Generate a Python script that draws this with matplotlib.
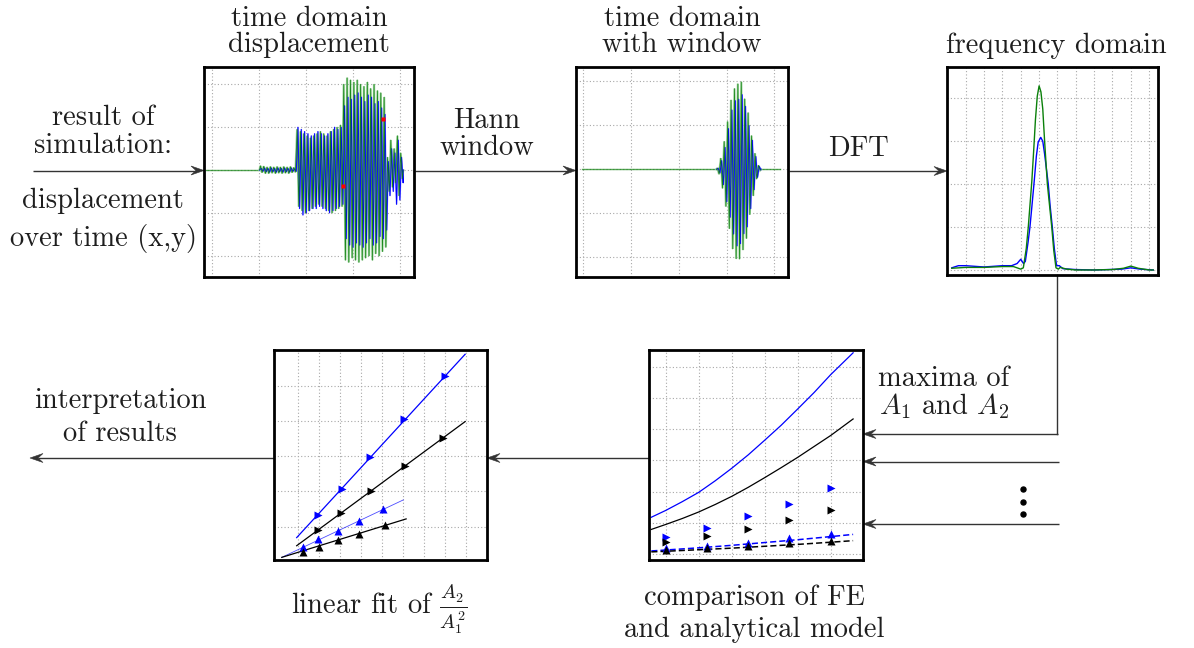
import numpy as np
import matplotlib
matplotlib.use("Agg")
import matplotlib.pyplot as plt
from matplotlib.patches import Polygon

plt.rcParams['font.family'] = ['cmr10']
plt.rcParams['mathtext.fontset'] = 'cm'
plt.rcParams['axes.unicode_minus'] = False
plt.rcParams['axes.formatter.use_mathtext'] = True

W, H = 1194, 648

# ---------------- data ----------------
# time-domain displacement: segment limits and half-cycle peak values
disp_segments = [1.02, 1.80, 2.79, 3.72, 4.07]
green_pre = [0.10, -0.06, 0.09, -0.08, 0.07, -0.08, 0.08, -0.07, 0.07, -0.08, 0.08,
             -0.07, 0.07, -0.08, 0.08, -0.07, 0.07, -0.08, 0.08, -0.06, 0.06, -0.05]
blue_pre = [0.04, -0.03, 0.05, -0.04, 0.04, -0.05, 0.05, -0.04, 0.04, -0.05, 0.05,
            -0.04, 0.04, -0.05, 0.05, -0.04, 0.04, -0.05, 0.05, -0.03, 0.03, -0.03]
green_mid = [0.95, -0.85, 0.90, -0.95, 0.85, -1.00, 0.80, -0.95, 0.75, -0.90, 0.80, -0.85,
             0.85, -0.80, 0.90, -0.85, 0.85, -0.90, 0.80, -0.95, 0.90, -1.00, 0.95, -0.95,
             1.00, -0.90, 1.05, -0.85]
blue_mid = [1.00, -0.90, 0.95, -1.05, 0.90, -1.00, 0.85, -0.95, 0.80, -0.90, 0.85, -0.90,
            0.90, -0.85, 0.85, -0.90, 0.80, -0.95, 0.85, -1.00, 0.90, -0.95, 1.00, -0.90,
            0.95, -0.85, 1.00, -0.80]
green_burst = [2.00, -2.10, 2.15, -2.15, 2.10, -2.05, 2.05, -2.10, 2.10, -2.15, 2.00, -2.10,
               1.95, -2.05, 2.05, -2.00, 1.90, -2.10, 2.00, -1.95, 1.85, -2.00, 1.80, -1.90,
               1.70, -1.80]
blue_burst = [1.50, -1.60, 1.70, -1.75, 1.65, -1.80, 1.75, -1.70, 1.80, -1.75, 1.70, -1.80,
              1.60, -1.70, 1.75, -1.60, 1.70, -1.75, 1.55, -1.70, 1.60, -1.55, 1.45, -1.60,
              1.30, -1.40]
green_tail = [0.30, -0.50, 0.70, -0.40, 0.50, -0.30, 0.80, -0.60, 0.40, -0.20]
blue_tail = [0.20, -0.60, 0.50, -0.50, 0.40, -0.80, 0.70, -0.70, 0.30, -0.30]
red_x = [3.64, 2.79]
red_y = [1.19, -0.38]

# frequency domain spectra
freq_green_x = [-0.76, 0.0, 1.0, 2.0, 2.6, 3.0, 3.14, 3.3, 3.41, 3.5, 3.6, 3.7, 3.8, 3.9,
                4.0, 4.1, 4.2, 4.3, 4.45, 4.57, 4.69, 4.8, 4.92, 5.05, 5.15, 5.5, 6.0, 7.0,
                8.0, 8.6, 9.0, 9.4, 10.0, 10.22]
freq_green = [0.04, 0.06, 0.06, 0.08, 0.08, 0.02, 0.05, 0.5, 1.0, 1.5, 2.05, 2.75, 3.5, 4.05,
              4.29, 4.15, 3.75, 3.0, 2.0, 1.5, 1.0, 0.45, 0.05, 0.02, 0.06, 0.02, 0.0, 0.0,
              0.01, 0.04, 0.09, 0.04, 0.0, 0.0]
freq_blue_x = [-0.76, -0.4, 0.0, 1.0, 2.0, 2.5, 2.8, 3.0, 3.15, 3.25, 3.3, 3.4, 3.5, 3.6,
               3.74, 3.85, 3.95, 4.09, 4.2, 4.3, 4.4, 4.5, 4.6, 4.72, 4.83, 4.95, 5.1, 5.3,
               6.0, 7.0, 8.5, 9.0, 9.5, 10.22]
freq_blue = [0.05, 0.1, 0.1, 0.07, 0.1, 0.1, 0.15, 0.25, 0.15, 0.2, 0.35, 0.65, 1.0, 1.45,
             2.1, 2.65, 2.98, 3.09, 3.0, 2.7, 2.35, 2.0, 1.5, 1.0, 0.5, 0.1, 0.1, 0.03,
             0.01, 0.0, 0.02, 0.05, 0.02, 0.0]

# linear fit of A2/A1^2
fit_up_x = [0.95, 8.97]
fit_blue_up_y = [0.69, 5.89]
fit_black_up_y = [0.46, 3.98]
fit_blue_lo_x = [0.24, 6.03]
fit_blue_lo_y = [0.13, 1.76]
fit_black_lo_x = [0.24, 6.16]
fit_black_lo_y = [0.13, 1.22]
pts_blue_up_x = [1.98, 3.10, 4.44, 6.08, 8.01]
pts_blue_up_y = [1.33, 2.07, 2.97, 4.06, 5.28]
pts_black_up_x = [1.98, 3.06, 4.49, 6.11, 7.93]
pts_black_up_y = [0.91, 1.40, 2.01, 2.73, 3.51]
pts_blue_lo_x = [1.27, 1.98, 2.90, 3.93, 5.08]
pts_blue_lo_y = [0.41, 0.64, 0.88, 1.17, 1.50]
pts_black_lo_x = [1.24, 2.01, 2.90, 3.93, 5.16]
pts_black_lo_y = [0.29, 0.43, 0.62, 0.80, 1.05]

# comparison of FE and analytical model
model_x = [0.56, 1.0, 1.5, 2.0, 2.5, 3.0, 3.5, 4.0, 4.5, 5.0, 5.5, 6.0, 6.68]
model_blue = [1.18, 1.40, 1.68, 1.98, 2.35, 2.75, 3.18, 3.65, 4.13, 4.65, 5.18, 5.75, 6.45]
model_black = [0.79, 0.95, 1.14, 1.35, 1.59, 1.85, 2.14, 2.45, 2.77, 3.10, 3.45, 3.80, 4.33]
model_blue_dash = [0.10, 0.13, 0.165, 0.20, 0.24, 0.28, 0.325, 0.37, 0.415, 0.46, 0.51,
                   0.56, 0.63]
model_black_dash = [0.07, 0.09, 0.115, 0.14, 0.165, 0.19, 0.22, 0.25, 0.28, 0.31, 0.345,
                    0.38, 0.43]
fe_x = [1.0, 2.25, 3.5, 4.75, 6.0]
fe_blue_r = [0.56, 0.84, 1.21, 1.62, 2.13]
fe_black_r = [0.38, 0.59, 0.81, 1.10, 1.42]
fe_blue_u = [0.18, 0.26, 0.37, 0.50, 0.63]
fe_black_u = [0.13, 0.18, 0.26, 0.34, 0.43]

# ---------------- styling ----------------
BLUE = '#0000ff'
GREEN = '#0a800a'
LIGHT_GREEN = '#9fd29f'
LIGHT_BLUE = '#8c8cff'
TXT = '#1e1e1e'
ARR = '#333333'
FS = 20.5

fig = plt.figure(figsize=(W / 100, H / 100), dpi=100)
canvas = fig.add_axes([0, 0, 1, 1], zorder=0)
canvas.set_xlim(0, W)
canvas.set_ylim(H, 0)
canvas.axis('off')


def panel(l, t, r, b, xlim, ylim, xt, yt):
    ax = fig.add_axes([l / W, 1 - b / H, (r - l) / W, (b - t) / H], zorder=2)
    ax.set_xlim(*xlim)
    ax.set_ylim(*ylim)
    ax.set_xticks(xt)
    ax.set_yticks(yt)
    ax.tick_params(length=0, labelbottom=False, labelleft=False)
    ax.grid(True, color='#a8a8a8', lw=0.8, ls=(0, (1, 2)))
    ax.set_axisbelow(True)
    for s in ax.spines.values():
        s.set_linewidth(2.0)
        s.set_color('black')
    return ax


def zigzag(segments, parts, phase=0.5):
    """Place half-cycle peaks evenly inside each segment; phase shifts them by a
    fraction of one half-cycle."""
    t = []
    for s, e, p in zip(segments[:-1], segments[1:], parts):
        n = len(p)
        t.extend(s + (np.arange(n) + phase) * (e - s) / n)
    return np.array(t), np.concatenate([np.asarray(p, float) for p in parts])


def arrow(x0, y0, x1, y1, L=13.0, hw=4.5):
    d = np.array([x1 - x0, y1 - y0], float)
    u = d / np.hypot(*d)
    n = np.array([-u[1], u[0]])
    tip = np.array([x1, y1], float)
    back = tip - L * u
    notch = tip - 0.62 * L * u
    canvas.plot([x0, notch[0]], [y0, notch[1]], color=ARR, lw=1.0, solid_capstyle='butt')
    canvas.add_patch(Polygon([tip, back + hw * n, notch, back - hw * n], closed=True,
                             fc=ARR, ec=ARR, lw=0.4))


def label(x, y, s, **kw):
    canvas.text(x, y, s, ha='center', va='baseline', fontsize=FS, color=TXT, **kw)


def burst(ax, tg, yg, tb, yb):
    # pale bodies of both traces first, then the blue and dark green traces
    ax.plot(tg, yg, color=LIGHT_GREEN, lw=1.6, solid_joinstyle='miter')
    ax.plot(tb, yb, color=LIGHT_BLUE, lw=1.1, solid_joinstyle='miter')
    ax.plot(tb, yb, color=BLUE, lw=0.65)
    ax.plot(tg, yg, color=GREEN, lw=0.55, alpha=0.9)


# --- panel 1: time domain displacement ---
ax1 = panel(204, 67, 414, 277, (-0.16, 4.30), (-2.49, 2.40), range(5), range(-2, 3))
tg, yg = zigzag(disp_segments, [green_pre, green_mid, green_burst, green_tail], 0.5)
tb, yb = zigzag(disp_segments, [blue_pre, blue_mid, blue_burst, blue_tail], 1.0)
ax1.plot([-0.12, disp_segments[0]], [0, 0], color=GREEN, lw=1.0, alpha=0.7)
burst(ax1, np.r_[disp_segments[0], tg, disp_segments[-1]], np.r_[0, yg, 0],
      np.r_[disp_segments[0], tb, disp_segments[-1]], np.r_[0, yb, 0])
ax1.plot(red_x, red_y, 's', color='red', ms=2.5, mec='none')

# --- panel 2: time domain with window (burst segment times a Hann window) ---
ax2 = panel(576, 67, 788, 277, (-0.153, 4.287), (-2.45, 2.325), range(5), range(-2, 3))
s0, s1 = disp_segments[2], disp_segments[3]
nb = len(green_burst)
step = (s1 - s0) / nb
hann = np.hanning(nb + 2)[1:-1]
ax2.plot([-0.03, 4.12], [0, 0], color=GREEN, lw=1.0, alpha=0.7)
burst(ax2,
      np.r_[s0, s0 + (np.arange(nb) + 0.5) * step, s1],
      np.r_[0, np.asarray(green_burst) * hann, 0],
      np.r_[s0, s0 + (np.arange(nb) + 1.0) * step, s1],
      np.r_[0, np.asarray(blue_burst) * hann, 0])

# --- panel 3: frequency domain ---
ax3 = panel(947, 67, 1158, 275, (-1.02, 10.48), (-0.117, 4.73), range(11), range(5))
ax3.plot(freq_blue_x, freq_blue, color=BLUE, lw=1.0)
ax3.plot(freq_green_x, freq_green, color=GREEN, lw=1.0)

# --- panel 4: linear fit ---
ax4 = panel(274, 350, 487, 560, (-0.13, 10.01), (0.055, 6.01), range(1, 10), range(1, 6))
ax4.plot(fit_up_x, fit_blue_up_y, color=BLUE, lw=0.9)
ax4.plot(fit_up_x, fit_black_up_y, color='black', lw=0.9)
ax4.plot(fit_blue_lo_x, fit_blue_lo_y, color=BLUE, lw=0.6, alpha=0.7)
ax4.plot(fit_black_lo_x, fit_black_lo_y, color='black', lw=0.9)
ax4.plot(pts_blue_up_x, pts_blue_up_y, '>', color=BLUE, ms=5.5, mec='none')
ax4.plot(pts_black_up_x, pts_black_up_y, '>', color='black', ms=5.5, mec='none')
ax4.plot(pts_blue_lo_x, pts_blue_lo_y, '^', color=BLUE, ms=5.5, mec='none')
ax4.plot(pts_black_lo_x, pts_black_lo_y, '^', color='black', ms=5.5, mec='none')

# --- panel 5: FE results vs analytical model ---
ax5 = panel(649, 350, 863, 560, (0.49, 6.98), (-0.19, 6.54), range(1, 7), range(0, 7))
ax5.plot(model_x, model_blue, color=BLUE, lw=0.9)
ax5.plot(model_x, model_black, color='black', lw=0.9)
ax5.plot(model_x, model_blue_dash, color=BLUE, lw=1.1, ls=(0, (4, 2)))
ax5.plot(model_x, model_black_dash, color='black', lw=1.1, ls=(0, (4, 2)))
ax5.plot(fe_x, fe_blue_r, '>', color=BLUE, ms=5.5, mec='none')
ax5.plot(fe_x, fe_black_r, '>', color='black', ms=5.5, mec='none')
ax5.plot(fe_x, fe_blue_u, '^', color=BLUE, ms=5.5, mec='none')
ax5.plot(fe_x, fe_black_u, '^', color='black', ms=5.5, mec='none')

# --- flow arrows ---
arrow(33, 170.5, 204, 170.5)
arrow(415, 170.5, 576, 170.5)
arrow(789, 171, 947, 171)
canvas.plot([1057, 1057], [276, 434], color=ARR, lw=1.0)
arrow(1057.5, 434, 863, 434)
arrow(1059, 461.5, 863, 461.5)
arrow(1059, 524, 863, 524)
canvas.plot([1023, 1023, 1023], [489, 501.5, 514], 'o', color='black', ms=3.6)
arrow(649, 458, 487, 458)
arrow(274, 458, 30, 458)

# --- labels ---
label(309, 26, 'time domain')
label(309, 52.5, 'displacement')
label(682, 26, 'time domain')
label(682, 52.5, 'with window')
label(1056, 53, 'frequency domain')
label(103, 125, 'result of')
label(103, 153, 'simulation:')
label(103, 208, 'displacement')
label(103, 246, 'over time (x,y)')
label(487, 128, 'Hann')
label(487, 155, 'window')
label(858, 156, 'DFT')
label(944, 386, 'maxima of')
label(944, 414, r'$A_1$ and $A_2$')
label(120, 408, 'interpretation')
label(120, 441, 'of results')
label(379, 614, r'linear fit of $\frac{A_2}{A_1^2}$')
label(754, 605, 'comparison of FE')
label(754, 637, 'and analytical model')

fig.savefig('out.png', dpi=100)
